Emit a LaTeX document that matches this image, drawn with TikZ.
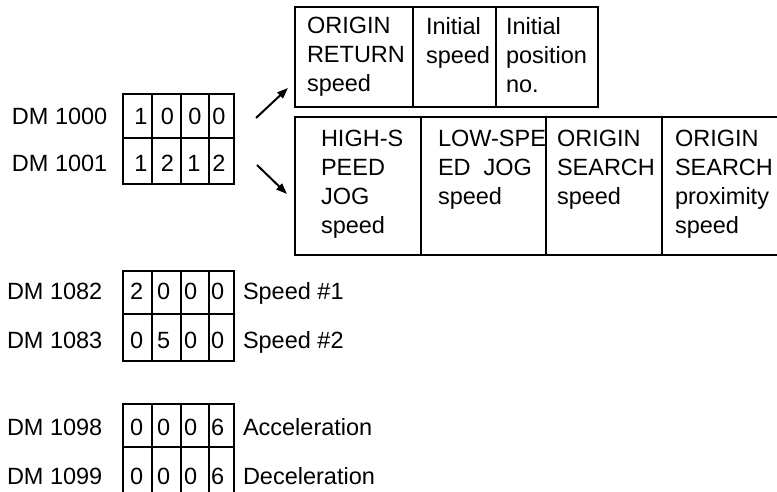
\documentclass[tikz,border=0pt]{standalone}
\usepackage{fontspec}
\setmainfont{Liberation Sans}
\usetikzlibrary{arrows.meta}
\begin{document}
\begin{tikzpicture}[x=1pt,y=-1pt,line width=2pt,
  lbl/.style={inner sep=0pt,anchor=base west,font=\fontsize{23.5}{29}\selectfont},
  dgc/.style={inner sep=0pt,anchor=base,font=\fontsize{23.5}{29}\selectfont},
  dgw/.style={inner sep=0pt,anchor=base west,font=\fontsize{23.5}{29}\selectfont},
  cell/.style={inner sep=0pt,anchor=north west,align=left,font=\fontsize{23.5}{29}\selectfont},
  arr/.style={line width=2pt,-{Triangle[length=11pt,width=8pt]}}]
\useasboundingbox (0,0) rectangle (777,492);
\clip (0,0) rectangle (777,492);
\fill[white] (0,0) rectangle (777,492);

% ---- upper grid (DM 1000/1001)
\draw (123,94) rectangle (234,184);
\draw (123,138) -- (234,138);
\foreach \x in {152,181,209} \draw (\x,94) -- (\x,184);
\node[lbl] (l1000) at (11,125) {DM 1000};
\node[lbl] (l1001) at (11,172) {DM 1001};
\node[dgc] (a11) at (141,125) {1};
\node[dgc] (a12) at (167.5,125) {0};
\node[dgc] (a13) at (195,125) {0};
\node[dgc] (a14) at (219,125) {0};
\node[dgc] (a21) at (141,172) {1};
\node[dgc] (a22) at (167.5,172) {2};
\node[dgc] (a23) at (194,172) {1};
\node[dgc] (a24) at (219,172) {2};

% ---- arrows
\coordinate (up0) at (256,118);
\coordinate (up1) at (288,88);
\coordinate (dn0) at (257,165);
\coordinate (dn1) at (287,194);
\draw[arr] (up0) -- (up1);
\draw[arr] (dn0) -- (dn1);

% ---- top box
\draw (295,7) rectangle (598,107);
\draw (413,7) -- (413,107);
\draw (496,7) -- (496,107);
\node[cell] (t1) at (306,16.2) {ORIGIN\\RETURN\\speed};
\node[cell] (t2) at (425,16.2) {Initial\\speed};
\node[cell] (t3) at (505,16.2) {Initial\\position\\no.};

% ---- bottom box
\draw (790,117) -- (295,117) -- (295,255) -- (790,255);
\foreach \x in {421,546,662} \draw (\x,117) -- (\x,255);
\node[cell] (b1) at (320,129.2) {HIGH-S\\PEED\\JOG\\speed};
\node[cell] (b2) at (437,129.2) {LOW-SPE\\ED\ \ JOG\\speed};
\node[cell] (b3) at (556,129.2) {ORIGIN\\SEARCH\\speed};
\node[cell] (b4) at (674,129.2) {ORIGIN\\SEARCH\\proximity\\speed};

% ---- grid DM 1082/1083
\draw (123,271) rectangle (234,361);
\draw (123,314) -- (234,314);
\foreach \x in {152,181,209} \draw (\x,271) -- (\x,361);
\node[lbl] (l1082) at (6,299) {DM 1082};
\node[lbl] (l1083) at (6,348) {DM 1083};
\node[dgw] (c11) at (129,299) {2};
\node[dgw] (c12) at (156,299) {0};
\node[dgw] (c13) at (183,299) {0};
\node[dgw] (c14) at (210,299) {0};
\node[dgw] (c21) at (129,348) {0};
\node[dgw] (c22) at (156,348) {5};
\node[dgw] (c23) at (183,348) {0};
\node[dgw] (c24) at (210,348) {0};
\node[lbl] (s1) at (242,299) {Speed \#1};
\node[lbl] (s2) at (242,348) {Speed \#2};

% ---- grid DM 1098/1099
\draw (123,500) -- (123,404) -- (234,404) -- (234,500);
\draw (123,447) -- (234,447);
\foreach \x in {152,181,209} \draw (\x,404) -- (\x,500);
\node[lbl] (l1098) at (6,435) {DM 1098};
\node[lbl] (l1099) at (6,484) {DM 1099};
\node[dgw] (d11) at (129,435) {0};
\node[dgw] (d12) at (156,435) {0};
\node[dgw] (d13) at (183,435) {0};
\node[dgw] (d14) at (210,435) {6};
\node[dgw] (d21) at (129,484) {0};
\node[dgw] (d22) at (156,484) {0};
\node[dgw] (d23) at (183,484) {0};
\node[dgw] (d24) at (210,484) {6};
\node[lbl] (acc) at (242,435) {Acceleration};
\node[lbl] (dec) at (242,484) {Deceleration};
\end{tikzpicture}
\end{document}
